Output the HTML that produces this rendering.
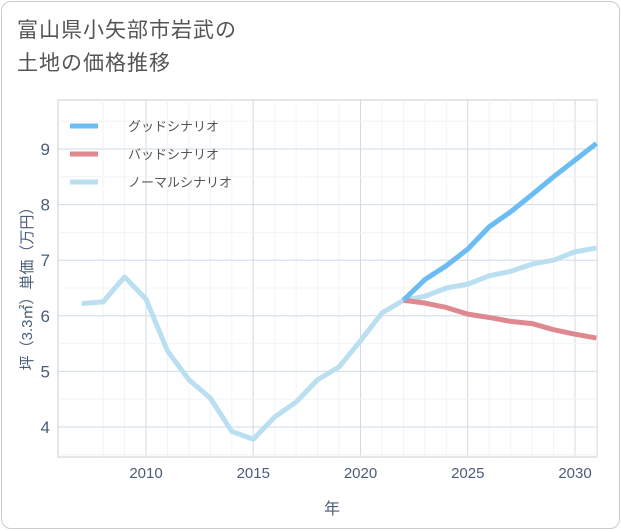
<!DOCTYPE html>
<html><head><meta charset="utf-8"><style>
body{margin:0;background:#fff;font-family:"Liberation Sans","Noto Sans CJK JP",sans-serif;}
.card{position:absolute;left:1px;top:1px;width:617px;height:526px;border:1px solid #ccc;border-radius:10px;background:#fff;}
.title{position:absolute;left:17px;top:14px;font-size:21px;line-height:33px;color:#555;letter-spacing:1px;}
</style></head><body>
<div class="card"></div>
<div class="title">富山県小矢部市岩武の<br>土地の価格推移</div>
<svg width="621" height="530" style="position:absolute;left:0;top:0">
<g id="grid"></g><g id="lines"></g><g id="ticks"></g>
<g>
<line x1="70" y1="126" x2="98" y2="126" stroke="#6bbcf2" stroke-width="5"/>
<text x="128" y="131" font-size="13" fill="#555">グッドシナリオ</text>
<line x1="70" y1="154" x2="98" y2="154" stroke="#e0888f" stroke-width="5"/>
<text x="128" y="159" font-size="13" fill="#555">バッドシナリオ</text>
<line x1="70" y1="182" x2="98" y2="182" stroke="#b9dff0" stroke-width="5"/>
<text x="128" y="187" font-size="13" fill="#555">ノーマルシナリオ</text>
</g>
<text x="332" y="514" font-size="16" fill="#4a5d78" text-anchor="middle">年</text>
<text transform="translate(32,285) rotate(-90)" font-size="15" fill="#4a5d78" text-anchor="middle">坪（3.3㎡）単価（万円）</text>
</svg>
<script>
const normYears=[2007,2008,2009,2010,2011,2012,2013,2014,2015,2016,2017,2018,2019,2020,2021,2022,2023,2024,2025,2026,2027,2028,2029,2030,2031];
const normVals=[6.22,6.25,6.7,6.3,5.37,4.85,4.52,3.92,3.78,4.18,4.45,4.85,5.08,5.55,6.05,6.28,6.35,6.5,6.57,6.72,6.8,6.93,7.0,7.15,7.22];
const scYears=[2022,2023,2024,2025,2026,2027,2028,2029,2030,2031];
const goodVals=[6.28,6.65,6.9,7.2,7.6,7.87,8.18,8.5,8.8,9.1];
const badVals=[6.28,6.23,6.15,6.03,5.97,5.9,5.86,5.75,5.67,5.6];
const xTicks=[2010,2015,2020,2025,2030];
const yTicks=[4,5,6,7,8,9];
const L=58,R=597,T=100,B=457;
const x=v=>146+(v-2010)*21.45;
const y=v=>427-(v-4)*55.6;
const NS="http://www.w3.org/2000/svg";
const grid=document.getElementById('grid'),lines=document.getElementById('lines'),ticks=document.getElementById('ticks');
function mk(tag,attrs,parent){const e=document.createElementNS(NS,tag);for(const k in attrs)e.setAttribute(k,attrs[k]);parent.appendChild(e);return e;}
const frame=mk('rect',{x:L,y:T,width:R-L,height:B-T,fill:'none',stroke:'#ccc'},grid);


for(let yr=2008;yr<=2031;yr++){const g=mk('line',{x1:x(yr),x2:x(yr),y1:T,y2:B,stroke:xTicks.includes(yr)?'#d0dbe6':'#f1f4f7'},grid);

}
for(let v=3.5;v<=9.7;v+=0.5){if(y(v)<T||y(v)>B)continue;const g=mk('line',{x1:L,x2:R,y1:y(v),y2:y(v),stroke:Number.isInteger(v)?'#d0dbe6':'#f1f4f7'},grid);

}
xTicks.forEach(t=>{const e=mk('text',{x:x(t),y:478,'font-size':15,fill:'#4a5d78','text-anchor':'middle'},ticks);e.textContent=t;

});
yTicks.forEach(t=>{const e=mk('text',{x:50,y:y(t)+6,'font-size':17,fill:'#4a5d78','text-anchor':'end'},ticks);e.textContent=t;

});
function path(xs,vs,color,name){const d=xs.map((v,i)=>(i?'L':'M')+x(v)+','+y(vs[i])).join(' ');const p=mk('path',{d:d,fill:'none',stroke:color,'stroke-width':5,'stroke-linejoin':'round'},lines);

}
path(normYears,normVals,'#b9dff0','normal-line');
path(scYears,badVals,'#e0888f','bad-line');
path(scYears,goodVals,'#6bbcf2','good-line');
</script>
</body></html>
